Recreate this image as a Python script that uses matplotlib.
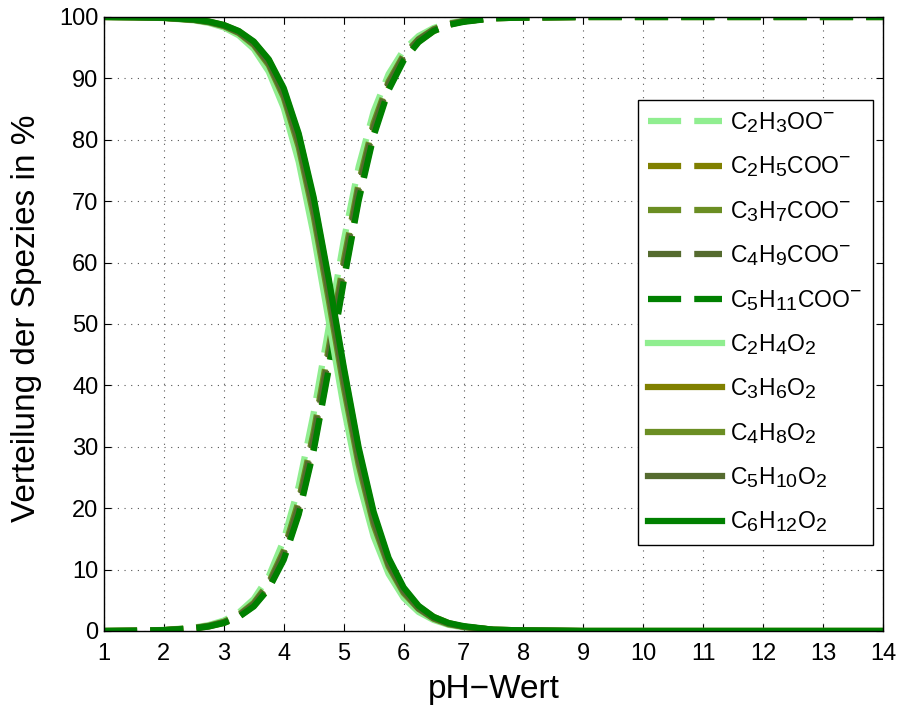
import numpy as np
import matplotlib
matplotlib.use("Agg")
import matplotlib.pyplot as plt
import matplotlib._mathtext as mathtext_internal

plt.rcParams['font.family'] = ['Liberation Sans', 'DejaVu Sans']
plt.rcParams['mathtext.fontset'] = 'custom'
plt.rcParams['mathtext.rm'] = 'Liberation Sans'
plt.rcParams['mathtext.it'] = 'Liberation Sans'
# larger sub/superscripts in the formula labels
mathtext_internal.SHRINK_FACTOR = 0.85

# pH grid
ph = [1, 1.5, 2, 2.5, 2.75, 3, 3.25, 3.5, 3.75, 4, 4.25, 4.5, 4.75, 5, 5.25,
      5.5, 5.75, 6, 6.25, 6.5, 6.75, 7, 7.5, 8, 9, 10, 11, 12, 13, 14]

# deprotonated share (%) for each acid
anion_acetic = [0.0, 0.05, 0.17, 0.55, 0.97, 1.7, 3.0, 5.2, 8.9, 14.8, 23.6, 35.5, 49.4, 63.5, 75.6,
                84.6, 90.7, 94.6, 96.9, 98.2, 99.0, 99.4, 99.8, 99.9, 100, 100, 100, 100, 100, 100]
anion_propionic = [0.0, 0.04, 0.13, 0.43, 0.75, 1.33, 2.34, 4.1, 7.0, 11.9, 19.3, 29.9, 43.1, 57.4, 70.6,
                   81.0, 88.4, 93.1, 96.0, 97.7, 98.7, 99.3, 99.8, 99.9, 100, 100, 100, 100, 100, 100]
anion_butyric = [0.0, 0.05, 0.15, 0.48, 0.85, 1.49, 2.62, 4.57, 7.84, 13.1, 21.2, 32.4, 46.0, 60.2, 72.9,
                 82.7, 89.5, 93.8, 96.4, 98.0, 98.9, 99.3, 99.8, 99.9, 100, 100, 100, 100, 100, 100]
anion_valeric = [0.0, 0.05, 0.14, 0.46, 0.81, 1.42, 2.51, 4.37, 7.5, 12.6, 20.4, 31.4, 44.8, 59.1, 72.0,
                 82.0, 89.1, 93.5, 96.3, 97.9, 98.8, 99.3, 99.8, 99.9, 100, 100, 100, 100, 100, 100]
anion_caproic = [0.0, 0.04, 0.13, 0.41, 0.74, 1.30, 2.29, 4.0, 6.9, 11.6, 19.0, 29.4, 42.6, 56.9, 70.1,
                 80.6, 88.1, 92.9, 95.9, 97.7, 98.7, 99.2, 99.8, 99.9, 100, 100, 100, 100, 100, 100]

anion_labels = [r'$\mathregular{C_2H_3OO^{-}}$', r'$\mathregular{C_2H_5COO^{-}}$',
                r'$\mathregular{C_3H_7COO^{-}}$', r'$\mathregular{C_4H_9COO^{-}}$',
                r'$\mathregular{C_5H_{11}COO^{-}}$']
acid_labels = [r'$\mathregular{C_2H_4O_2}$', r'$\mathregular{C_3H_6O_2}$',
               r'$\mathregular{C_4H_8O_2}$', r'$\mathregular{C_5H_{10}O_2}$',
               r'$\mathregular{C_6H_{12}O_2}$']
colors = ['#90EE90', '#808000', '#6B8E23', '#556B2F', '#008000']

anions = [anion_acetic, anion_propionic, anion_butyric, anion_valeric, anion_caproic]

fig = plt.figure(figsize=(9.01, 7.07), dpi=100)
ax = fig.add_axes([0.1154, 0.1075, 0.8646, 0.8685])

x = np.array(ph)
for vals, lab, c in zip(anions, anion_labels, colors):
    ax.plot(x, vals, color=c, lw=4.5, ls=(0, (5.3, 2.1)), label=lab)
for vals, lab, c in zip(anions, acid_labels, colors):
    ax.plot(x, 100 - np.array(vals), color=c, lw=4.5, label=lab)

ax.set_xlim(1, 14)
ax.set_ylim(0, 100)
ax.set_xticks(range(1, 15))
ax.set_yticks(range(0, 101, 10))
ax.tick_params(direction='in', top=True, right=True, labelsize=17, length=5, width=0.8, pad=4)
ax.tick_params(axis='x', pad=9)
ax.grid(True, ls=(0, (1, 5)), color='#555555', lw=0.8)
for s in ax.spines.values():
    s.set_linewidth(1.0)
ax.set_xlabel('pH\u2212Wert', fontsize=24)
ax.set_ylabel('Verteilung der Spezies in %', fontsize=24)
ax.xaxis.set_label_coords(0.5, -0.07)
ax.yaxis.set_label_coords(-0.08, 0.51)

leg = ax.legend(loc='upper right', bbox_to_anchor=(0.987, 0.865), fontsize=16.5,
                handlelength=3.23, labelspacing=0.85, fancybox=False, framealpha=1,
                edgecolor='black', borderpad=0.45, handletextpad=0.35, borderaxespad=0)
leg.get_frame().set_linewidth(1.0)

fig.savefig('out.png', dpi=100)
